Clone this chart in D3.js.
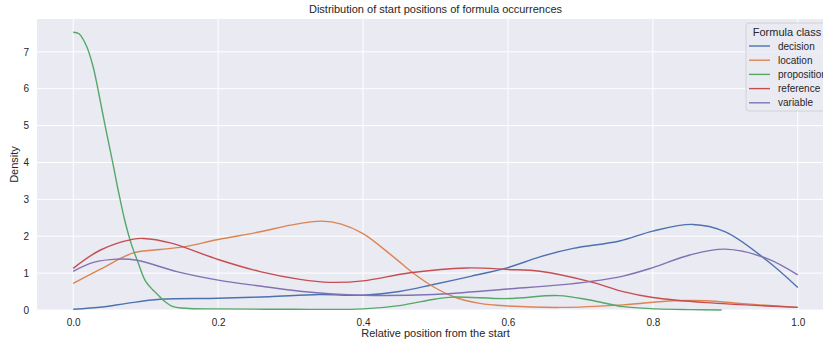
<!DOCTYPE html>
<html>
<head>
<meta charset="utf-8">
<script src="https://cdn.jsdelivr.net/npm/d3@7"></script>
<style>
  body { margin: 0; background: #fff; }
  svg { display: block; font-family: "Liberation Sans", Arial, sans-serif; }
</style>
</head>
<body>
<div id="container"></div>
<script>
// KDE curves, one x/y pair per class
const classes = ["decision", "location", "proposition", "reference", "variable"];
const colors = ["#4c72b0", "#dd8452", "#55a868", "#c44e52", "#8172b3"];

const decisionX = [0, 0.04, 0.074, 0.12, 0.2, 0.27, 0.34, 0.4, 0.45, 0.497, 0.55, 0.6, 0.644, 0.69, 0.754, 0.8, 0.855, 0.9, 0.957, 1.0];
const decisionY = [0.02, 0.08, 0.18, 0.29, 0.32, 0.36, 0.42, 0.40, 0.50, 0.69, 0.92, 1.15, 1.44, 1.67, 1.87, 2.14, 2.32, 2.12, 1.35, 0.61];

const locationX = [0, 0.037, 0.083, 0.12, 0.152, 0.2, 0.258, 0.3, 0.343, 0.37, 0.4, 0.442, 0.47, 0.497, 0.525, 0.561, 0.6, 0.672, 0.759, 0.828, 0.874, 0.92, 1.0];
const locationY = [0.72, 1.10, 1.55, 1.64, 1.71, 1.91, 2.12, 2.30, 2.41, 2.33, 2.07, 1.44, 0.99, 0.63, 0.36, 0.18, 0.11, 0.07, 0.14, 0.25, 0.25, 0.18, 0.07];

const propositionX = [0, 0.008, 0.018, 0.027, 0.034, 0.044, 0.055, 0.062, 0.071, 0.08, 0.09, 0.099, 0.11, 0.117, 0.124, 0.138, 0.16, 0.2, 0.3, 0.4, 0.45, 0.5, 0.524, 0.6, 0.67, 0.713, 0.759, 0.805, 0.85, 0.895];
const propositionY = [7.53, 7.49, 7.17, 6.63, 6.0, 5.0, 3.95, 3.25, 2.44, 1.80, 1.26, 0.81, 0.54, 0.41, 0.27, 0.09, 0.04, 0.03, 0.02, 0.03, 0.12, 0.30, 0.35, 0.31, 0.39, 0.27, 0.09, 0.03, 0.01, 0.0];

const referenceX = [0, 0.037, 0.083, 0.097, 0.134, 0.2, 0.258, 0.313, 0.354, 0.4, 0.465, 0.543, 0.6, 0.644, 0.713, 0.759, 0.8, 0.874, 1.0];
const referenceY = [1.13, 1.62, 1.92, 1.94, 1.82, 1.37, 1.04, 0.83, 0.75, 0.79, 1.01, 1.14, 1.10, 1.05, 0.77, 0.50, 0.34, 0.20, 0.07];

const variableX = [0, 0.028, 0.06, 0.088, 0.143, 0.2, 0.258, 0.313, 0.4, 0.497, 0.6, 0.672, 0.713, 0.759, 0.8, 0.851, 0.9, 0.957, 1.0];
const variableY = [1.05, 1.29, 1.38, 1.35, 1.04, 0.81, 0.65, 0.51, 0.40, 0.42, 0.57, 0.68, 0.77, 0.92, 1.15, 1.49, 1.65, 1.40, 0.95];

const xTicks = [0, 0.2, 0.4, 0.6, 0.8, 1.0];
const yTicks = [0, 1, 2, 3, 4, 5, 6, 7];

const seriesX = [decisionX, locationX, propositionX, referenceX, variableX];
const seriesY = [decisionY, locationY, propositionY, referenceY, variableY];

const width = 823, height = 345;
const margin = { top: 19, right: -11, bottom: 35, left: 37 };
const textColor = "#262626";

let x = d3.scaleLinear()
    .domain([-0.05, 1.05])
    .range([margin.left, width - margin.right]);
let y = d3.scaleLinear()
    .domain([0, 7.89])
    .range([height - margin.bottom, margin.top]);

let svg = d3.select("#container").append("svg")
    .attr("width", width)
    .attr("height", height);

// background + grid
svg.append("rect")
    .attr("x", margin.left)
    .attr("y", margin.top)
    .attr("width", x.range()[1] - margin.left)
    .attr("height", y(0) - margin.top)
    .attr("fill", "#eaeaf2");

svg.append("g")
    .selectAll("line")
    .data(xTicks)
    .enter().append("line")
    .attr("x1", d => x(d)).attr("x2", d => x(d))
    .attr("y1", margin.top).attr("y2", y(0))
    .attr("stroke", "#fff").attr("stroke-width", 1);
svg.append("g")
    .selectAll("line")
    .data(yTicks)
    .enter().append("line")
    .attr("x1", margin.left).attr("x2", x.range()[1])
    .attr("y1", d => y(d)).attr("y2", d => y(d))
    .attr("stroke", "#fff").attr("stroke-width", 1);

// axes (labels only, seaborn darkgrid has no ticks or spines)
let xAxis = svg.append("g")
    .attr("transform", `translate(0,${y(0)})`)
    .call(d3.axisBottom(x).tickValues(xTicks).tickFormat(d3.format(".1f")).tickSize(0).tickPadding(9));
let yAxis = svg.append("g")
    .attr("transform", `translate(${margin.left},0)`)
    .call(d3.axisLeft(y).tickValues(yTicks).tickFormat(d3.format("d")).tickSize(0).tickPadding(8));
[xAxis, yAxis].forEach(a => {
    a.select(".domain").remove();
    a.selectAll("text")
        .style("font-size", "10px")
        .style("font-family", "Liberation Sans, Arial, sans-serif")
        .attr("fill", textColor);
});

// curves
let line = d3.line()
    .x(d => x(d.x))
    .y(d => y(d.y))
    .curve(d3.curveCatmullRom.alpha(0.5));

classes.forEach((c, i) => {
    const data = seriesX[i].map((v, j) => ({ x: v, y: seriesY[i][j] }));
    svg.append("path")
        .datum(data)
        .attr("fill", "none")
        .attr("stroke", colors[i])
        .attr("stroke-width", 1.4)
        .attr("d", line);
});

// titles
svg.append("text")
    .attr("x", (margin.left + x.range()[1]) / 2)
    .attr("y", 13)
    .attr("text-anchor", "middle")
    .style("font-size", "11px")
    .attr("fill", textColor)
    .text("Distribution of start positions of formula occurrences");
svg.append("text")
    .attr("x", (margin.left + x.range()[1]) / 2)
    .attr("y", 337)
    .attr("text-anchor", "middle")
    .style("font-size", "11px")
    .attr("fill", textColor)
    .text("Relative position from the start");
svg.append("text")
    .attr("transform", `translate(18,${(margin.top + y(0)) / 2}) rotate(-90)`)
    .attr("text-anchor", "middle")
    .style("font-size", "11px")
    .attr("fill", textColor)
    .text("Density");

// legend
let legend = svg.append("g").attr("transform", "translate(746,23)");
legend.append("rect")
    .attr("width", 90).attr("height", 88)
    .attr("rx", 3)
    .attr("fill", "#eaeaf2").attr("fill-opacity", 0.8)
    .attr("stroke", "#cccccc").attr("stroke-width", 0.8);
legend.append("text")
    .attr("x", 41).attr("y", 13)
    .attr("text-anchor", "middle")
    .style("font-size", "11px")
    .attr("fill", textColor)
    .text("Formula class");
classes.forEach((c, i) => {
    let row = legend.append("g").attr("transform", `translate(0,${23 + i * 14.2})`);
    row.append("line")
        .attr("x1", 3).attr("x2", 24)
        .attr("stroke", colors[i]).attr("stroke-width", 1.4);
    row.append("text")
        .attr("x", 32).attr("y", 3.5)
        .style("font-size", "10px")
        .attr("fill", textColor)
        .text(c);
});
</script>
</body>
</html>
